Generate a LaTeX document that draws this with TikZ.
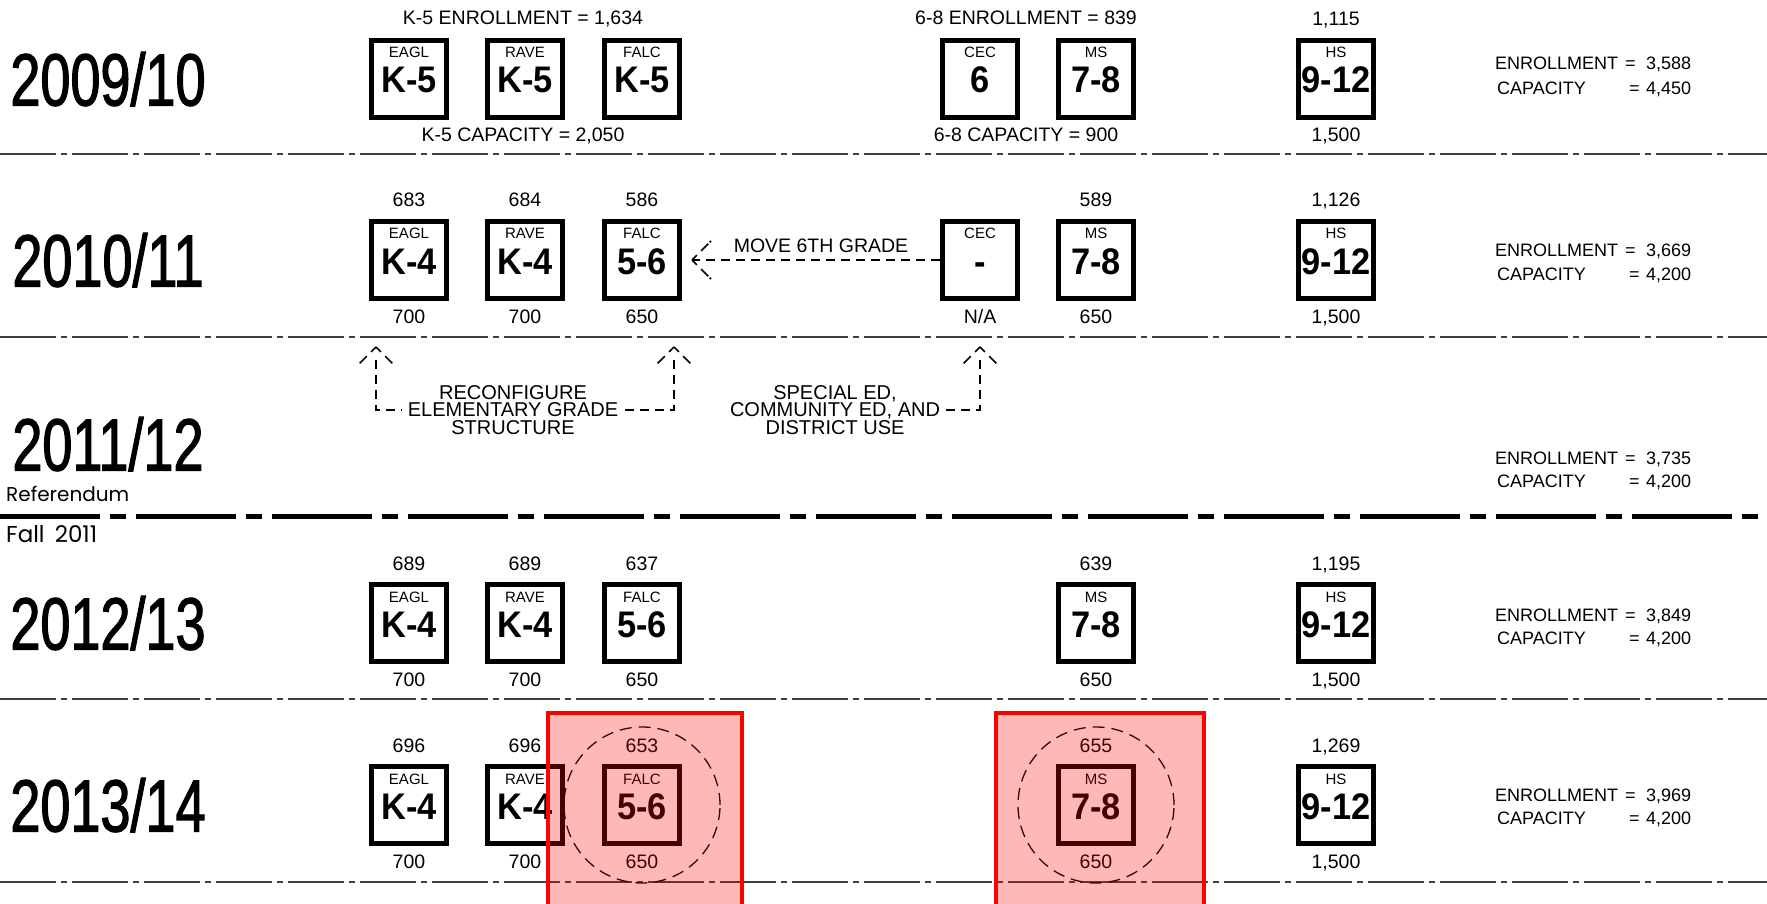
\documentclass[tikz,border=0pt]{standalone}
\usepackage{fontspec}
\setmainfont{Liberation Sans}
\newfontfamily\yearfont[FakeStretch=0.73, FakeBold=1.5]{Liberation Sans}
\newfontfamily\handfont{Liberation Sans}
\newfontfamily\gradefont[FakeStretch=0.93]{Liberation Sans Bold}
\newfontfamily\refont{Poppins}
\usetikzlibrary{calc}
\tikzset{
  schbox/.style={draw, line width=5pt, minimum width=75pt, minimum height=77pt, inner sep=0pt},
  tag/.style={font=\handfont\fontsize{15}{15}\selectfont, inner sep=0pt, anchor=base},
  grade/.style={font=\gradefont\fontsize{37}{37}\selectfont, inner sep=0pt, anchor=base},
  hand/.style={font=\handfont\fontsize{19.5}{19.5}\selectfont, inner sep=0pt, anchor=base},
  tot/.style={font=\handfont\fontsize{18}{18}\selectfont, inner sep=0pt, anchor=base west},
  year/.style={font=\yearfont\fontsize{74}{74}\selectfont, inner sep=0pt, anchor=base},
  reftext/.style={font=\refont\fontsize{20}{20}\selectfont, inner sep=0pt, anchor=base west},
  sepline/.style={line width=2pt, black!75, dash pattern=on 56pt off 5pt on 6pt off 5pt},
  refline/.style={line width=5pt, dash pattern=on 100pt off 10pt on 16pt off 10pt},
  conn/.style={line width=1.5pt, dash pattern=on 9pt off 6pt},
  wing/.style={line width=1.5pt, dash pattern=on 7pt off 6pt on 10pt off 2pt},
  ring/.style={draw, circle, line width=1.3pt, dash pattern=on 12pt off 7pt, minimum size=156pt, inner sep=0pt},
  redmark/.style={draw=red, line width=3.5pt, fill=red, fill opacity=0.28},
  note/.style={font=\handfont\fontsize{20}{17.5}\selectfont, align=center, inner xsep=6pt, inner ysep=0pt},
}
\newcommand\school[5]{%
  \node[schbox] (#1) at (#2,#3) {};
  \node[tag] (#1t) at ({#2},{#3-21}) {#4};
  \node[grade] (#1g) at ({#2},{#3+14}) {#5};
}
\newcommand\counts[5]{%
  \node[hand] (#1a) at ({#2},{#3-53}) {#4};
  \node[hand] (#1b) at ({#2},{#3+63}) {#5};
}
\newcommand\totals[5]{%
  \node[tot] (#1e) at (1495,#2) {ENROLLMENT};
  \node[tot] (#1eq) at (1625,#2) {=};
  \node[tot] (#1ev) at (1646,#2) {#4};
  \node[tot] (#1c) at (1497,#3) {CAPACITY};
  \node[tot] (#1cq) at (1629,#3) {=};
  \node[tot] (#1cv) at (1646,#3) {#5};
}
\begin{document}
\begin{tikzpicture}[x=1pt,y=-1pt]
\useasboundingbox (0,0) rectangle (1767,904);
\fill[white] (0,0) rectangle (1767,904);

% separator lines
\draw[sepline] (0,154) -- (1767,154);
\draw[sepline] (0,337) -- (1767,337);
\draw[refline] (0,516) -- (1767,516);
\draw[sepline] (0,699) -- (1767,699);
\draw[sepline] (0,882) -- (1767,882);

% years
\node[year] (y1) at (108,105.5) {2009/10};
\node[year] (y2) at (108,286.5) {2010/11};
\node[year] (y3) at (108,470.5) {2011/12};
\node[year] (y4) at (108,649.5) {2012/13};
\node[year] (y5) at (108,831.5) {2013/14};
\node[reftext] (ref) at (6,501) {Referendum};
\node[reftext, font=\refont\fontsize{23}{23}\selectfont] (fall) at (6,542) {Fall\hspace{4pt} 2011};

% row 1
\school{e1}{409}{79}{EAGL}{K-5}
\school{r1}{525}{79}{RAVE}{K-5}
\school{f1}{642}{79}{FALC}{K-5}
\school{c1}{980}{79}{CEC}{6}
\school{m1}{1096}{79}{MS}{7-8}
\school{h1}{1336}{79}{HS}{9-12}
\node[hand] (k5e) at (523,25) {K-5 ENROLLMENT = 1,634};
\node[hand] (k5c) at (523,142) {K-5 CAPACITY = 2,050};
\node[hand] (m8e) at (1026,25) {6-8 ENROLLMENT = 839};
\node[hand] (m8c) at (1026,142) {6-8 CAPACITY = 900};
\counts{h1}{1336}{79}{1,115}{1,500}
\totals{t1}{70}{95}{3,588}{4,450}

% row 2
\school{e2}{409}{260}{EAGL}{K-4}
\school{r2}{525}{260}{RAVE}{K-4}
\school{f2}{642}{260}{FALC}{5-6}
\school{c2}{980}{260}{CEC}{-}
\school{m2}{1096}{260}{MS}{7-8}
\school{h2}{1336}{260}{HS}{9-12}
\counts{e2}{409}{260}{683}{700}
\counts{r2}{525}{260}{684}{700}
\counts{f2}{642}{260}{586}{650}
\node[hand] (c2b) at (980,323) {N/A};
\counts{m2}{1096}{260}{589}{650}
\counts{h2}{1336}{260}{1,126}{1,500}
\totals{t2}{257}{280}{3,669}{4,200}
\node[hand] (mv6) at (821,253) {MOVE 6TH GRADE};
\coordinate (mv) at ($(f2.east)+(10,0)$);
\draw[conn] (c2.west) -- (mv);
\draw[wing] (mv) -- ++(19,-19);
\draw[wing] (mv) -- ++(19,19);

% row 3
\node[note] (n1) at (513,410) {RECONFIGURE\\ELEMENTARY GRADE\\STRUCTURE};
\node[note] (n2) at (835,410) {SPECIAL ED,\\COMMUNITY ED, AND\\DISTRICT USE};
\coordinate (u1) at (376,347);
\coordinate (u2) at (674,347);
\coordinate (u3) at (980,347);
\draw[conn] ($(u1)+(0,13)$) |- (n1.west);
\draw[conn] ($(u2)+(0,13)$) |- (n1.east);
\draw[conn] ($(u3)+(0,13)$) |- (n2.east);
\foreach \u in {u1,u2,u3}{
  \draw[wing] (\u) -- ++(-17,17);
  \draw[wing] (\u) -- ++(17,17);
}
\totals{t3}{464}{487}{3,735}{4,200}

% row 4
\school{e4}{409}{623}{EAGL}{K-4}
\school{r4}{525}{623}{RAVE}{K-4}
\school{f4}{642}{623}{FALC}{5-6}
\school{m4}{1096}{623}{MS}{7-8}
\school{h4}{1336}{623}{HS}{9-12}
\counts{e4}{409}{623}{689}{700}
\counts{r4}{525}{623}{689}{700}
\counts{f4}{642}{623}{637}{650}
\counts{m4}{1096}{623}{639}{650}
\counts{h4}{1336}{623}{1,195}{1,500}
\totals{t4}{621}{644}{3,849}{4,200}

% row 5
\school{e5}{409}{805}{EAGL}{K-4}
\school{r5}{525}{805}{RAVE}{K-4}
\school{f5}{642}{805}{FALC}{5-6}
\school{m5}{1096}{805}{MS}{7-8}
\school{h5}{1336}{805}{HS}{9-12}
\counts{e5}{409}{805}{696}{700}
\counts{r5}{525}{805}{696}{700}
\counts{f5}{642}{805}{653}{650}
\counts{m5}{1096}{805}{655}{650}
\counts{h5}{1336}{805}{1,269}{1,500}
\totals{t5}{801}{824}{3,969}{4,200}
\node[ring] (ringf) at (f5) {};
\node[ring] (ringm) at (m5) {};

% highlight overlays
\draw[redmark] (548,713) rectangle (742,915);
\draw[redmark] (996,713) rectangle (1204,915);
\end{tikzpicture}
\end{document}
